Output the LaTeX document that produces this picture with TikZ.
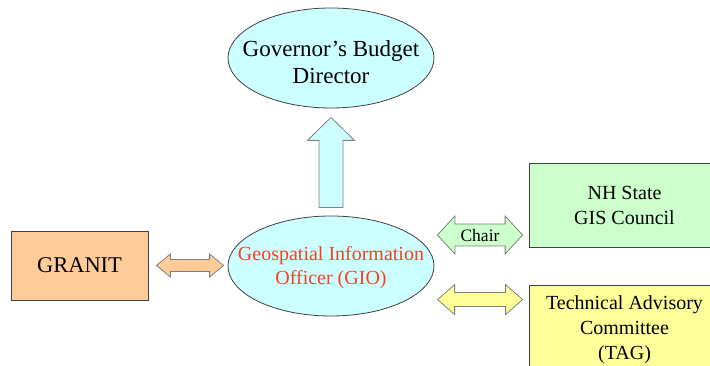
\documentclass[tikz,border=0pt]{standalone}
\usepackage{fontspec}
\setmainfont{Liberation Serif}
\newfontfamily\timesx{Liberation Serif}
\usetikzlibrary{shapes.geometric,calc}
\definecolor{cyanfill}{HTML}{CCFFFF}
\definecolor{orangefill}{HTML}{FFCC99}
\definecolor{greenfill}{HTML}{CCFFCC}
\definecolor{yellowfill}{HTML}{FFFF99}
\definecolor{redtext}{RGB}{255,60,30}
\definecolor{arrowline}{HTML}{7F7F7F}
\newcommand{\hdarrow}[6]{%
  \path[#1] let \p1=(#2), \p2=(#3) in
    (\x1,\y1) -- ++(#6pt,#5pt) -- ++(0pt,-#5pt+#4pt) -- (\x2-#6pt,\y1+#4pt)
    -- ++(0pt,#5pt-#4pt) -- (\x2,\y1) -- ++(-#6pt,-#5pt) -- ++(0pt,#5pt-#4pt)
    -- (\x1+#6pt,\y1-#4pt) -- ++(0pt,-#5pt+#4pt) -- cycle;}
\begin{document}
\begin{tikzpicture}[x=1pt,y=-1pt,
  ell/.style={ellipse,draw=black!75,line width=0.8pt,fill=cyanfill,inner sep=0pt,
    minimum width=206pt,minimum height=100pt},
  lbl/.style={inner sep=0pt,align=center},
  box/.style={rectangle,draw=black!75,line width=0.8pt,inner sep=0pt,align=center},
  blockarrow/.style={draw=arrowline,line width=0.8pt,line join=miter}]
\useasboundingbox (0,0) rectangle (710,366);
\clip (0,0) rectangle (710,366);
\node[ell] (gov) at (331,58) {};
\node[lbl,font=\timesx\fontsize{23}{27}\selectfont] (govtext) at ($(gov.center)+(0,4)$) {Governor’s Budget\\Director};
\node[ell] (gio) at (331,266) {};
\node[lbl,text=redtext,font=\timesx\fontsize{20}{24}\selectfont] (giotext) at ($(gio.center)+(0,2)$) {Geospatial Information\\Officer (GIO)};
\node[box,fill=orangefill,minimum width=137pt,minimum height=69pt,font=\timesx\fontsize{22.5}{27}\selectfont] (granit) at (79.5,265.5) {GRANIT};
\node[box,fill=greenfill,minimum width=191pt,minimum height=84pt,font=\timesx\fontsize{20}{25}\selectfont] (nh) at (624.5,205) {NH State\\GIS Council};
\node[box,fill=yellowfill,minimum width=191pt,minimum height=89pt,font=\timesx\fontsize{20}{25}\selectfont] (tag) at (624.5,329.5) {Technical Advisory\\Committee\\(TAG)};
% up arrow
\coordinate (u1) at ($(gio.north)+(0,-8)$);
\coordinate (u2) at ($(gov.south)+(0,9)$);
\path[blockarrow,fill=cyanfill] let \p1=(u1), \p2=(u2) in
  (\x1-12pt,\y1) -- (\x1-12pt,\y2-23pt) -- (\x1-23.5pt,\y2-23pt) -- (\x2,\y2)
  -- (\x1+23.5pt,\y2-23pt) -- (\x1+12pt,\y2-23pt) -- (\x1+12pt,\y1) -- cycle;
% GRANIT arrow
\coordinate (g1) at ($(granit.east)+(8,0)$);
\coordinate (g2) at ($(gio.west)+(-4,0)$);
\hdarrow{blockarrow,fill=orangefill}{g1}{g2}{6}{11.5}{14}
% Chair arrow
\coordinate (c1) at ($(gio.east)+(3,-31)$);
\coordinate (c2) at ($(nh.west)+(-6,30)$);
\hdarrow{blockarrow,fill=greenfill}{c1}{c2}{11}{19}{17.5}
\node[font=\timesx\fontsize{17.5}{20}\selectfont,inner sep=0pt] (chair) at ($(c1)!0.5!(c2)+(0,1)$) {Chair};
% TAG arrow
\coordinate (y1) at ($(tag.north west)+(-91,15)$);
\coordinate (y2) at ($(tag.north west)+(-6,15)$);
\hdarrow{blockarrow,fill=yellowfill}{y1}{y2}{7}{15}{17}
\end{tikzpicture}
\end{document}
